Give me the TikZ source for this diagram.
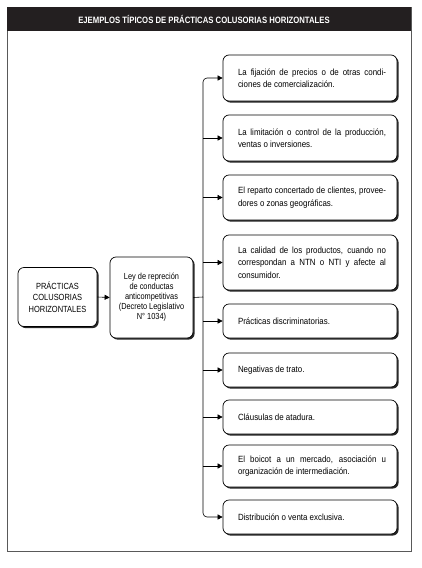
\documentclass[tikz,border=0pt]{standalone}
\usepackage{fontspec}
\setmainfont[FakeStretch=0.84]{Liberation Sans}
\newfontfamily\itemfont[FakeStretch=0.88]{Liberation Sans}
\usetikzlibrary{arrows.meta,shadows}
\definecolor{headgray}{HTML}{231F20}
\begin{document}
\begin{tikzpicture}[x=1pt,y=-1pt,
  box/.style={draw=black, line width=0.7pt, rounded corners=6pt, fill=white,
    drop shadow={shadow xshift=1.6pt, shadow yshift=-1.6pt, opacity=1, fill=black!85}},
  item/.style={box, text width=152pt, align=justify, inner xsep=11pt, minimum width=174pt, anchor=center,
    font=\itemfont\fontsize{9}{12.5}\selectfont, execute at begin node={\leftskip=4pt}},
  arr/.style={-{Triangle[length=5pt,width=5pt]}, line width=0.6pt},
  conn/.style={line width=0.6pt}
]
\useasboundingbox[fill=white] (0,0) rectangle (422,568);
\draw[black!65, line width=1pt] (7,7) rectangle (411,551);
\fill[headgray] (7,7) rectangle (411,31);
\node[text=white, font=\fontsize{9.2}{10}\bfseries\selectfont] (title) at (204,19.5) {EJEMPLOS TÍPICOS DE PRÁCTICAS COLUSORIAS HORIZONTALES};

\node[box, minimum width=79pt, minimum height=59pt, align=center, font=\fontsize{8.9}{11.5}\selectfont] (pch) at (57.5,297) {PRÁCTICAS\\COLUSORIAS\\HORIZONTALES};
\node[box, minimum width=83pt, minimum height=81pt, align=center, inner xsep=1pt, font=\fontsize{8.8}{10}\selectfont] (ley) at (151.5,297.5) {Ley de repreción\\de conductas\\anticompetitivas\\(Decreto Legislativo\\N° 1034)};

\node[item, minimum height=46pt] (b1) at (310,78) {La fijación de precios o de otras condi-\linebreak ciones de comercialización.};
\node[item, minimum height=46pt] (b2) at (310,138) {La limitación o control de la producción,\linebreak ventas o inversiones.};
\node[item, minimum height=45pt] (b3) at (310,197.5) {El reparto concertado de clientes, provee-\linebreak dores o zonas geográficas.};
\node[item, minimum height=55pt] (b4) at (310,262.5) {La calidad de los productos, cuando no\linebreak correspondan a NTN o NTI y afecte al\linebreak consumidor.};
\node[item, minimum height=34pt] (b5) at (310,321) {Prácticas discriminatorias.};
\node[item, minimum height=34pt] (b6) at (310,370) {Negativas de trato.};
\node[item, minimum height=34pt] (b7) at (310,417) {Cláusulas de atadura.};
\node[item, minimum height=42pt] (b8) at (310,466) {El boicot a un mercado, asociación u\linebreak organización de intermediación.};
\node[item, minimum height=34pt] (b9) at (310,517) {Distribución o venta exclusiva.};

\coordinate (tr) at (203,297);
\draw[arr] (pch.east) -- (ley.west);
\draw[conn] (ley.east) -- (tr);
\draw[arr, rounded corners=4pt] (tr) -- (tr |- b1.west) -- (b1.west);
\draw[arr, rounded corners=4pt] (tr) -- (tr |- b9.west) -- (b9.west);
\foreach \b in {b2,b3,b4,b5,b6,b7,b8}
  \draw[arr] (tr |- \b.west) -- (\b.west);
\end{tikzpicture}
\end{document}
